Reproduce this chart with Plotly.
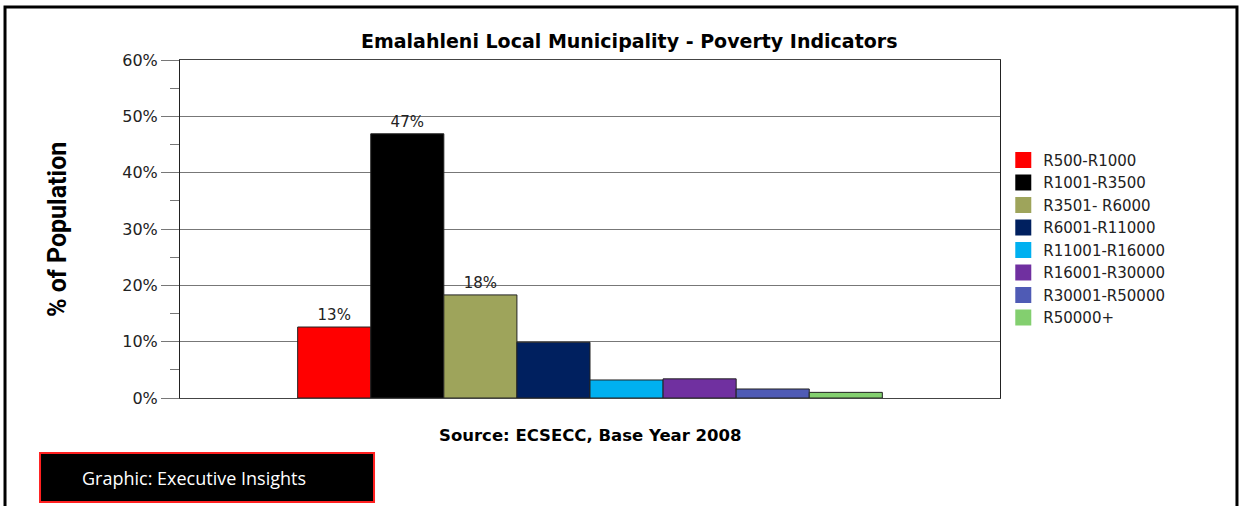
import plotly.graph_objects as go

brackets = ['R500-R1000', 'R1001-R3500', 'R3501- R6000', 'R6001-R11000',
            'R11001-R16000', 'R16001-R30000', 'R30001-R50000', 'R50000+']
share = [12.6, 46.9, 18.3, 9.9, 3.2, 3.4, 1.6, 1.0]
labels = ['13%', '47%', '18%', '', '', '', '', '']
colors = ['#ff0000', '#000000', '#9ea45b', '#00205f', '#00b0f0',
          '#7030a0', '#4f5bb5', '#83cf6f']

fig = go.Figure()
for name, val, lab, col in zip(brackets, share, labels, colors):
    fig.add_trace(go.Bar(
        x=['2008'], y=[val], name=name, showlegend=False,
        marker=dict(color=col, line=dict(color='#222222', width=1)),
        text=[lab], textposition='outside', cliponaxis=False,
        textfont=dict(family='DejaVu Sans', size=15, color='#222222'),
    ))
# legend entries with bigger square swatches
for name, col in zip(brackets, colors):
    fig.add_trace(go.Scatter(
        x=[None], y=[None], mode='markers', name=name,
        marker=dict(symbol='square', size=18, color=col, line=dict(width=0)),
    ))

fig.update_layout(
    width=1240, height=506,
    margin=dict(l=180, r=240, t=60, b=108),
    paper_bgcolor='white', plot_bgcolor='white',
    barmode='group', bargap=0.287, bargroupgap=0,
    showlegend=True,
    legend=dict(x=1.004, y=0.752, xanchor='left', yanchor='top',
                font=dict(family='DejaVu Sans', size=15, color='#222222'),
                itemsizing='trace', tracegroupgap=0, itemwidth=30),
    xaxis=dict(showticklabels=False, ticks='', showgrid=False,
               showline=True, linecolor='#444444', mirror=True),
    yaxis=dict(range=[0, 60], dtick=10, ticksuffix='%',
               tickfont=dict(family='DejaVu Sans', size=16, color='#222222'),
               showgrid=True, gridcolor='#777777', gridwidth=1,
               ticks='outside', ticklen=18, tickcolor='#777777', ticklabelstandoff=0,
               minor=dict(dtick=5, ticks='outside', ticklen=9, tickcolor='#777777', showgrid=False),
               showline=True, linecolor='#222222', mirror=True, zeroline=False),
    font=dict(family='Liberation Sans'),
)

# outer frame and footer box
fig.add_shape(type='rect', xref='paper', yref='paper',
              x0=-0.2134, x1=1.289, y0=-0.35, y1=1.1568,
              line=dict(color='black', width=3), layer='below')
fig.add_shape(type='rect', xref='paper', yref='paper',
              x0=-0.1707, x1=0.2366, y0=-0.3077, y1=-0.1627,
              fillcolor='black', line=dict(color='#ff2020', width=2))

fig.add_annotation(text='<b>Emalahleni Local Municipality - Poverty Indicators</b>',
                   xref='paper', yref='paper', x=0.5476, y=1.056, yanchor='middle',
                   showarrow=False,
                   font=dict(family='DejaVu Sans', size=19, color='black'))
fig.add_annotation(text='<b>Source: ECSECC, Base Year 2008</b>',
                   xref='paper', yref='paper', x=0.5, y=-0.1124, yanchor='middle',
                   showarrow=False,
                   font=dict(family='DejaVu Sans', size=16.5, color='black'))
fig.add_annotation(text='<b>% of Population</b>', textangle=-90,
                   xref='paper', yref='paper', x=-0.15, y=0.497,
                   xanchor='center', yanchor='middle', showarrow=False,
                   font=dict(family='Liberation Sans Narrow, Roboto', size=25, color='black'))
fig.add_annotation(text='Graphic: Executive Insights',
                   xref='paper', yref='paper', x=-0.122, y=-0.2367,
                   xanchor='left', yanchor='middle', showarrow=False,
                   font=dict(family='Open Sans', size=18, color='white'))

fig.write_html("out.html", config={'displayModeBar': False},
               post_script="document.body.style.margin='0';")
